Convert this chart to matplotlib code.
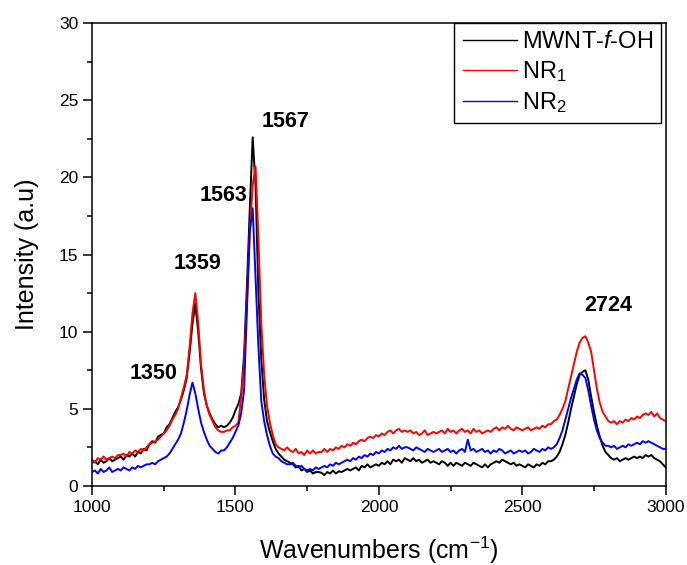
import numpy as np
import matplotlib
matplotlib.use('Agg')
from matplotlib import pyplot as plt
from matplotlib.ticker import MultipleLocator

plt.rcParams['font.family'] = ['Liberation Sans', 'DejaVu Sans']
plt.rcParams['mathtext.fontset'] = 'custom'
plt.rcParams['mathtext.rm'] = 'Liberation Sans'
plt.rcParams['mathtext.it'] = 'Liberation Sans:italic'

# Raman shift grid, 1000-3000 cm-1 every 10 cm-1
wavenumber = np.arange(1000, 3001, 10)

mwnt_oh = [
    1.5, 1.6, 1.4, 1.7, 1.5, 1.6, 1.8, 1.6, 1.7, 1.8,
    1.9, 1.7, 2.0, 1.9, 2.1, 1.9, 2.2, 2.1, 2.4, 2.3,
    2.7, 2.9, 2.8, 3.2, 3.3, 3.4, 3.8, 4.0, 4.4, 4.8,
    5.1, 5.6, 6.2, 7.0, 8.6, 10.5, 11.8, 10.0, 7.6, 6.0,
    5.2, 4.7, 4.3, 4.0, 3.8, 3.9, 3.8, 3.9, 4.1, 4.4,
    4.9, 5.3, 6.0, 8.5, 13.0, 18.0, 22.6, 19.5, 12.5, 8.2,
    5.6, 4.2, 3.5, 2.9, 2.4, 2.1, 1.9, 1.7, 1.6, 1.5,
    1.4, 1.2, 1.3, 1.0, 1.1, 0.9, 1.0, 0.8, 0.9, 0.9,
    0.85, 0.7, 0.9, 0.8, 1.0, 0.8, 0.95, 0.9, 1.0, 1.1,
    1.0, 1.1, 1.2, 1.0, 1.3, 1.2, 1.4, 1.2, 1.3, 1.4,
    1.3, 1.5, 1.4, 1.6, 1.4, 1.7, 1.6, 1.7, 1.5, 1.8,
    1.7, 1.6, 1.8, 1.6, 1.7, 1.5, 1.6, 1.7, 1.5, 1.6,
    1.5, 1.4, 1.6, 1.5, 1.3, 1.5, 1.3, 1.5, 1.4, 1.3,
    1.5, 1.4, 1.3, 1.5, 1.4, 1.3, 1.2, 1.4, 1.2, 1.4,
    1.5, 1.6, 1.5, 1.7, 1.6, 1.5, 1.4, 1.5, 1.3, 1.4,
    1.3, 1.2, 1.4, 1.3, 1.2, 1.4, 1.3, 1.5, 1.4, 1.6,
    1.6, 1.7, 1.9, 2.2, 2.7, 3.3, 4.1, 5.0, 5.8, 6.6,
    7.2, 7.4, 7.5, 6.9, 5.8, 4.8, 3.9, 3.2, 2.6, 2.2,
    2.0, 1.8, 1.7, 1.8, 1.6, 1.7, 1.8, 1.7, 1.8, 1.9,
    1.8, 1.9, 1.8, 2.0, 1.9, 2.0, 1.8, 1.7, 1.6, 1.4,
    1.2,
]

nr1 = [
    1.7, 1.5, 1.8, 1.7, 1.9, 1.7, 1.8, 1.9, 1.8, 2.0,
    2.0, 2.1, 1.9, 2.2, 2.1, 2.3, 2.2, 2.4, 2.3, 2.5,
    2.7, 2.8, 2.9, 3.0, 3.2, 3.4, 3.6, 3.9, 4.3, 4.6,
    5.0, 5.7, 6.4, 7.2, 9.0, 11.2, 12.5, 10.6, 7.9, 6.2,
    5.2, 4.6, 4.2, 3.8, 3.6, 3.5, 3.5, 3.6, 3.6, 3.8,
    3.9, 4.1, 5.8, 8.0, 12.0, 16.5, 19.5, 20.7, 16.0, 10.5,
    7.2, 5.2, 4.1, 3.3, 2.7, 2.5, 2.4, 2.3, 2.5, 2.3,
    2.2, 2.4, 2.1, 2.2, 2.0, 2.3, 2.1, 2.3, 2.1, 2.2,
    2.2, 2.4, 2.2, 2.4, 2.3, 2.5, 2.4, 2.6, 2.5, 2.7,
    2.6, 2.8, 2.7, 2.9, 3.0, 2.9, 3.1, 3.2, 3.1, 3.3,
    3.2, 3.4, 3.3, 3.5, 3.6, 3.4, 3.6, 3.7, 3.5, 3.6,
    3.5, 3.6, 3.4, 3.5, 3.3, 3.4, 3.6, 3.3, 3.4, 3.5,
    3.4, 3.5, 3.6, 3.4, 3.7, 3.5, 3.6, 3.4, 3.6, 3.7,
    3.5, 3.6, 3.4, 3.7, 3.5, 3.6, 3.4, 3.5, 3.6, 3.5,
    3.7, 3.8, 3.6, 3.8, 3.7, 3.9, 3.7, 3.6, 3.8, 3.7,
    3.6, 3.7, 3.8, 3.6, 3.7, 3.8, 3.7, 3.9, 3.8, 4.0,
    4.0, 4.2, 4.3, 4.6, 5.0, 5.5, 6.3, 7.1, 7.9, 8.7,
    9.3, 9.6, 9.7, 9.3, 8.7, 7.5, 6.3, 5.4, 4.8, 4.5,
    4.2, 4.1, 4.2, 4.0, 4.2, 4.1, 4.3, 4.2, 4.4, 4.3,
    4.5, 4.4, 4.6, 4.7, 4.6, 4.8, 4.5, 4.7, 4.4, 4.3,
    4.2,
]

nr2 = [
    0.9, 1.0, 0.8, 1.1, 0.9, 1.0, 1.2, 0.9, 1.0, 1.1,
    1.0, 1.2, 1.1, 1.0, 1.2, 1.1, 1.3, 1.2, 1.3, 1.4,
    1.4, 1.5, 1.4, 1.6, 1.7, 1.8, 1.9, 2.1, 2.4, 2.7,
    3.0, 3.4, 4.1, 4.9, 5.9, 6.7, 6.0, 5.0, 4.1, 3.5,
    3.0, 2.6, 2.4, 2.2, 2.1, 2.3, 2.3, 2.5, 2.8, 3.1,
    3.5, 3.9, 4.7, 6.2, 11.5, 16.5, 18.0, 13.5, 9.0, 5.5,
    4.2, 3.3, 2.6, 2.1, 1.9, 1.8, 1.6, 1.5, 1.4, 1.4,
    1.5, 1.3, 1.2, 1.3, 1.1, 1.0, 1.1, 1.0, 1.2, 1.1,
    1.2, 1.3, 1.2, 1.4, 1.3, 1.5, 1.4, 1.5, 1.6, 1.7,
    1.6, 1.8, 1.7, 1.9, 1.8, 2.0, 1.9, 2.1, 2.0, 2.2,
    2.1, 2.3, 2.2, 2.4, 2.3, 2.5, 2.4, 2.6, 2.4, 2.5,
    2.5, 2.4, 2.3, 2.5, 2.4, 2.3, 2.2, 2.4, 2.3, 2.2,
    2.3, 2.4, 2.2, 2.3, 2.4, 2.2, 2.3, 2.1, 2.3, 2.4,
    2.2, 3.0, 2.3, 2.4, 2.2, 2.3, 2.4, 2.2, 2.3, 2.1,
    2.3, 2.2, 2.4, 2.3, 2.1, 2.2, 2.3, 2.1, 2.2, 2.3,
    2.2, 2.3, 2.1, 2.2, 2.4, 2.3, 2.2, 2.4, 2.3, 2.5,
    2.4, 2.5, 2.7, 3.1, 3.6, 4.3, 5.0, 5.7, 6.3, 6.9,
    7.3, 7.2, 7.0, 6.2, 5.2, 4.3, 3.6, 3.1, 2.8, 2.6,
    2.6, 2.5, 2.6, 2.4, 2.5, 2.6, 2.5, 2.7, 2.6, 2.7,
    2.8, 2.7, 2.9, 2.8, 2.9, 2.8, 2.7, 2.6, 2.5, 2.4,
    2.4,
]

series_names = ['MWNT-$\\mathit{f}$-OH', 'NR$_1$', 'NR$_2$']
series_colors = ['black', 'red', 'blue']

# band positions written above the peaks
peak_labels = ['1567', '1563', '1359', '1350', '2724']
peak_x = [1590, 1375, 1285, 1132, 2715]
peak_y = [23.6, 18.8, 14.4, 7.3, 11.7]

fig = plt.figure(figsize=(6.87, 5.65), dpi=100)
ax = fig.add_axes([0.134, 0.140, 0.835, 0.819])

for vals, name, col in zip([mwnt_oh, nr1, nr2], series_names, series_colors):
    ax.plot(wavenumber, vals, color=col, lw=1.4, label=name)

for lab, x, y in zip(peak_labels, peak_x, peak_y):
    ax.text(x, y, lab, fontsize=15.5, fontweight='bold', ha='left', va='center')

ax.set_xlim(1000, 3000)
ax.set_ylim(0, 30)
ax.xaxis.set_major_locator(MultipleLocator(500))
ax.xaxis.set_minor_locator(MultipleLocator(250))
ax.yaxis.set_major_locator(MultipleLocator(5))
ax.yaxis.set_minor_locator(MultipleLocator(2.5))
ax.tick_params(which='major', direction='out', length=6.5, width=1.1, labelsize=12.5)
ax.tick_params(which='minor', direction='out', length=3.5, width=1.1)
for sp in ax.spines.values():
    sp.set_linewidth(1.1)

ax.set_xlabel('Wavenumbers (cm$^{-1}$)', fontsize=18, labelpad=14)
ax.set_ylabel('Intensity (a.u)', fontsize=18, labelpad=14)

leg = ax.legend(loc='upper right', bbox_to_anchor=(0.992, 1.0), borderaxespad=0,
                fontsize=17, fancybox=False, framealpha=1, edgecolor='black',
                handlelength=2.3, handletextpad=0.2, labelspacing=0.25, borderpad=0.35)
leg.get_frame().set_linewidth(1.0)
for ln in leg.get_lines():
    ln.set_linewidth(1.0)

fig.savefig('out.png', dpi=100)
